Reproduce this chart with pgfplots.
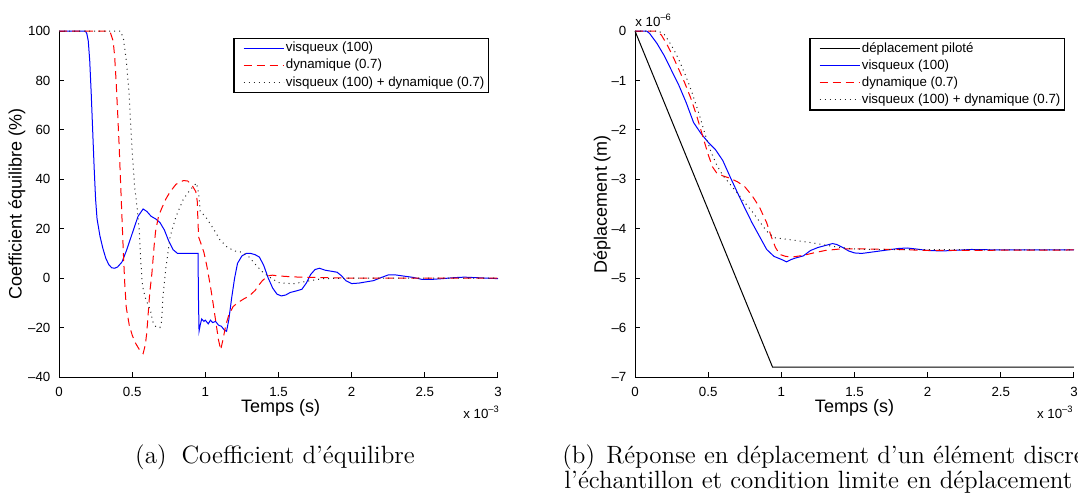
\documentclass[border=0pt]{standalone}
\usepackage{fontspec}
\newfontfamily\helv{Liberation Sans}
\usepackage{pgfplots}
\pgfplotsset{compat=1.18}
\pgfplotsset{
 mstyle/.style={
  scale only axis, width=219.5pt, height=173pt,
  axis x line*=bottom, axis y line*=left,
  axis line style={-, line width=0.5pt, black},
  tick align=inside, major tick length=2.5pt,
  tick style={black, line width=0.5pt},
  clip=false,
  xmin=0, xmax=3, xtick={0,0.5,1,1.5,2,2.5,3}, xticklabels={0,0.5,1,1.5,2,2.5,3},
  ticklabel style={font=\helv\fontsize{6.65}{8}\selectfont},
  xticklabel style={yshift=-1.5pt},
  yticklabel style={xshift=-0.8pt},
  label style={font=\helv\fontsize{9}{10}\selectfont},
  legend style={font=\helv\fontsize{6.65}{8}\selectfont, draw=black, line width=0.6pt,
    at={(0.979,0.98)}, anchor=north east, inner xsep=1pt, inner ysep=1pt,
    nodes={inner sep=0.9pt}, row sep=0.4pt},
  legend cell align=left,
  legend image code/.code={\path (-3.5pt,0pt); \draw[##1] (0pt,0pt) -- (20pt,0pt);},
 },
 sblue/.style={blue, line width=0.5pt},
 sred/.style={red, line width=0.5pt, dash pattern=on 4pt off 2.5pt},
 sdot/.style={black!85, line width=0.5pt, dash pattern=on 0.5pt off 2pt},
 sblack/.style={black, line width=0.5pt},
}
\begin{document}
\begin{tikzpicture}
\path[use as bounding box] (0,0) rectangle (539pt,247pt);
\begin{axis}[mstyle, at={(29.5pt,58.5pt)}, anchor=south west,
  ymin=-40, ymax=100, ytick={-40,-20,0,20,40,60,80,100},
  yticklabels={–40,–20,0,20,40,60,80,100},
  xlabel={Temps (s)}, ylabel={Coefficient équilibre (\%)},
  xlabel style={at={(axis description cs:0.505,-0.0896)}, anchor=center},
  ylabel style={at={(axis description cs:-0.0957,0.5)}, anchor=center},
]
\addplot[sblue] coordinates {(0,100) (0.18,100) (0.19,99) (0.2,96) (0.21,88) (0.22,75) (0.23,60) (0.24,45) (0.25,32) (0.26,24) (0.28,17) (0.30,12) (0.32,8) (0.34,5.5) (0.36,4.2) (0.38,4) (0.40,4.5) (0.43,6.5) (0.46,11) (0.5,18) (0.54,25) (0.575,28) (0.6,27) (0.63,25) (0.66,24) (0.69,22.5) (0.72,19.5) (0.75,15) (0.78,11.5) (0.81,10) (0.85,10) (0.9,10) (0.95,10) (0.953,-8) (0.957,-21.5) (0.965,-19) (0.975,-16.5) (0.99,-17.5) (1.0,-17) (1.02,-18.5) (1.035,-17) (1.05,-18) (1.07,-17.5) (1.09,-19) (1.11,-19.5) (1.13,-21) (1.145,-21.5) (1.16,-17) (1.18,-8) (1.2,0) (1.22,6) (1.25,9) (1.28,10) (1.31,10) (1.34,9.5) (1.37,8.5) (1.4,5) (1.43,0) (1.46,-4) (1.49,-6.5) (1.52,-7.2) (1.55,-6.8) (1.58,-5.8) (1.62,-5.2) (1.66,-4.5) (1.69,-2) (1.72,1.5) (1.75,3.5) (1.78,4) (1.82,3.2) (1.86,2.8) (1.9,2.4) (1.93,1) (1.96,-1) (2.0,-2.2) (2.05,-2) (2.1,-1.5) (2.15,-1) (2.2,0.2) (2.25,1.3) (2.3,1.3) (2.36,0.8) (2.42,0.3) (2.48,-0.5) (2.55,-0.5) (2.62,-0.2) (2.7,0.2) (2.77,0.4) (2.85,0.2) (2.92,0) (3,-0.2)};
\addlegendentry{visqueux (100)}
\addplot[sred] coordinates {(0,100) (0.33,100) (0.35,99.5) (0.37,96) (0.38,90) (0.39,80) (0.40,68) (0.41,55) (0.42,40) (0.43,25) (0.44,10) (0.45,-3) (0.46,-12) (0.48,-19) (0.5,-23) (0.52,-26) (0.55,-29) (0.575,-30.5) (0.59,-27) (0.6,-22) (0.61,-14) (0.62,-6) (0.635,2) (0.65,13) (0.66,19) (0.68,25) (0.7,28) (0.73,32) (0.76,35) (0.8,38) (0.85,39.5) (0.88,39.3) (0.91,37.5) (0.935,35) (0.945,31) (0.95,22) (0.955,16.5) (0.97,14) (0.99,10.5) (1.01,5) (1.034,-3) (1.05,-9) (1.07,-17) (1.09,-25) (1.105,-29) (1.12,-25) (1.14,-19) (1.16,-15) (1.19,-11.5) (1.22,-10) (1.26,-8.5) (1.3,-7.2) (1.34,-5) (1.37,-2.5) (1.39,-1) (1.43,1) (1.46,1.2) (1.5,0.9) (1.6,0.5) (1.8,0.2) (2,0) (2.5,0) (3,0)};
\addlegendentry{dynamique (0.7)}
\addplot[sdot] coordinates {(0,100) (0.42,100) (0.44,97) (0.46,88) (0.48,74) (0.5,51) (0.517,37) (0.535,28) (0.55,18) (0.56,6) (0.57,-3) (0.59,-8) (0.61,-11) (0.625,-13) (0.64,-17.5) (0.66,-19.5) (0.69,-20) (0.7,-18) (0.71,-8) (0.73,4) (0.76,17) (0.8,25) (0.85,32) (0.9,36) (0.94,38.5) (0.955,34) (0.965,27) (1.0,25) (1.05,20.5) (1.1,15.5) (1.15,12.5) (1.2,11) (1.25,10.5) (1.3,8.5) (1.35,5) (1.4,2) (1.45,0) (1.5,-1.8) (1.6,-2.3) (1.7,-1.2) (1.8,-0.2) (2,0) (3,0)};
\addlegendentry{visqueux (100) + dynamique (0.7)}
\node[anchor=east, inner sep=0pt, font=\helv\fontsize{6.65}{8}\selectfont] at (rel axis cs:1.005,0) [yshift=-17.5pt] {x 10\textsuperscript{–3}};
\end{axis}
\begin{axis}[mstyle, at={(317.5pt,58.5pt)}, anchor=south west,
  ymin=-7, ymax=0, ytick={-7,-6,-5,-4,-3,-2,-1,0},
  yticklabels={–7,–6,–5,–4,–3,–2,–1,0},
  xlabel={Temps (s)}, ylabel={Déplacement (m)},
  xlabel style={at={(axis description cs:0.5,-0.0896)}, anchor=center},
  ylabel style={at={(axis description cs:-0.0752,0.5)}, anchor=center},
]
\addplot[sblack] coordinates {(0,0) (0.94,-6.8) (3,-6.8)};
\addlegendentry{déplacement piloté}
\addplot[sblue] coordinates {(0,0) (0.08,0) (0.1,-0.05) (0.15,-0.25) (0.2,-0.5) (0.25,-0.8) (0.3,-1.1) (0.35,-1.45) (0.4,-1.85) (0.45,-2.07) (0.5,-2.25) (0.55,-2.4) (0.6,-2.62) (0.65,-2.95) (0.7,-3.27) (0.75,-3.58) (0.8,-3.88) (0.85,-4.15) (0.9,-4.42) (0.95,-4.56) (1.0,-4.62) (1.035,-4.67) (1.07,-4.62) (1.1,-4.59) (1.15,-4.55) (1.2,-4.44) (1.25,-4.38) (1.3,-4.34) (1.35,-4.3) (1.38,-4.32) (1.42,-4.38) (1.46,-4.45) (1.5,-4.49) (1.55,-4.5) (1.6,-4.48) (1.7,-4.44) (1.8,-4.4) (1.86,-4.39) (1.92,-4.41) (2.0,-4.44) (2.1,-4.45) (2.3,-4.42) (2.5,-4.43) (3,-4.43)};
\addlegendentry{visqueux (100)}
\addplot[sred] coordinates {(0,0) (0.14,0) (0.18,-0.08) (0.22,-0.28) (0.26,-0.52) (0.3,-0.78) (0.34,-1.05) (0.38,-1.35) (0.42,-1.7) (0.46,-2.1) (0.5,-2.5) (0.53,-2.75) (0.56,-2.88) (0.6,-2.93) (0.65,-2.98) (0.7,-3.05) (0.75,-3.15) (0.8,-3.33) (0.85,-3.56) (0.9,-3.88) (0.93,-4.15) (0.96,-4.38) (0.99,-4.52) (1.03,-4.56) (1.08,-4.57) (1.15,-4.54) (1.22,-4.49) (1.3,-4.44) (1.4,-4.41) (1.6,-4.41) (1.8,-4.42) (2.0,-4.44) (3,-4.43)};
\addlegendentry{dynamique (0.7)}
\addplot[sdot] coordinates {(0,0) (0.16,0) (0.2,-0.07) (0.23,-0.2) (0.26,-0.35) (0.29,-0.52) (0.32,-0.72) (0.35,-0.93) (0.39,-1.25) (0.44,-1.7) (0.48,-2.1) (0.52,-2.45) (0.56,-2.72) (0.6,-2.92) (0.65,-3.1) (0.7,-3.28) (0.75,-3.47) (0.8,-3.65) (0.85,-3.85) (0.9,-4.05) (0.95,-4.18) (1.0,-4.2) (1.08,-4.23) (1.2,-4.28) (1.3,-4.33) (1.4,-4.38) (1.5,-4.41) (1.6,-4.42) (3,-4.43)};
\addlegendentry{visqueux (100) + dynamique (0.7)}
\node[anchor=east, inner sep=0pt, font=\helv\fontsize{6.65}{8}\selectfont] at (rel axis cs:1.0,0) [yshift=-17.5pt] {x 10\textsuperscript{–3}};
\node[anchor=west, inner sep=0pt, font=\helv\fontsize{6.65}{8}\selectfont] at (rel axis cs:0,1) [yshift=5.5pt] {x 10\textsuperscript{–6}};
\end{axis}
\node[anchor=base, inner sep=0pt, font=\fontsize{12.5}{13}\selectfont] at (137.5pt,15.5pt) {(a)\hspace{0.6em}Coefficient d'équilibre};
\node[anchor=base west, inner sep=0pt, font=\fontsize{12.5}{13}\selectfont] at (281pt,15.5pt) {(b)\hspace{0.45em}Réponse en déplacement d'un élément discret de};
\node[anchor=base west, inner sep=0pt, font=\fontsize{12.5}{13}\selectfont] at (282pt,3pt) {l'échantillon et condition limite en déplacement piloté};
\end{tikzpicture}
\end{document}
